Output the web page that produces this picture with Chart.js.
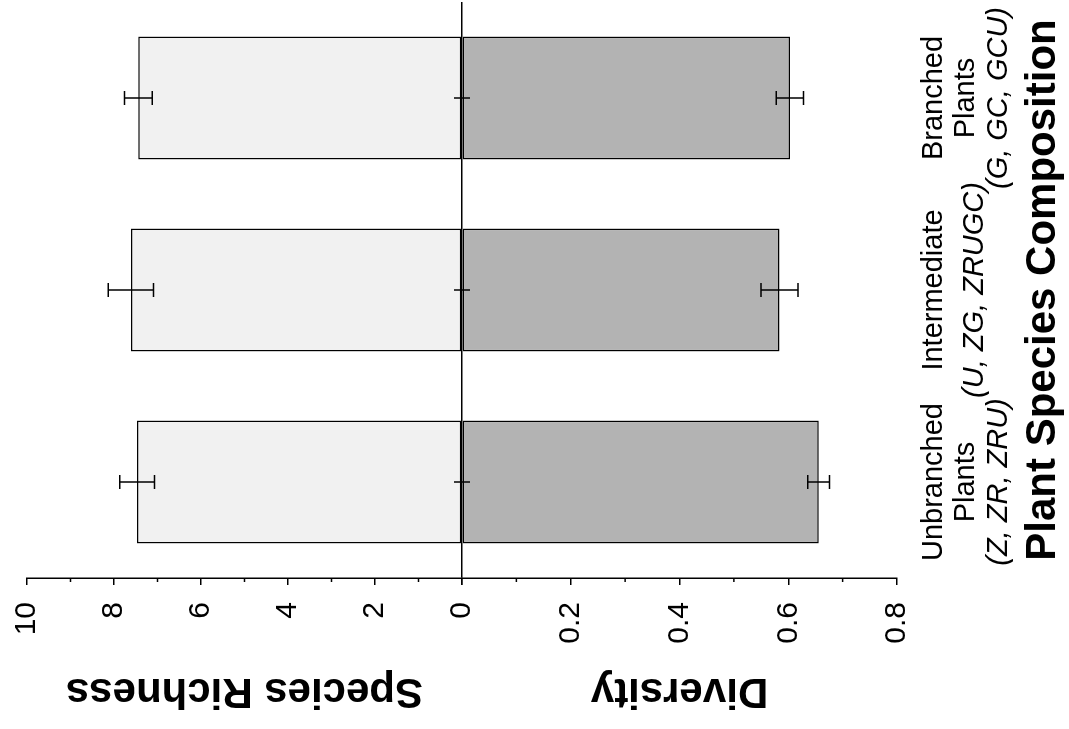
<!DOCTYPE html>
<html><head><meta charset="utf-8">
<script src="https://cdn.jsdelivr.net/npm/chart.js@4.4.1/dist/chart.umd.min.js"></script>
<style>
html,body{margin:0;padding:0;background:#fff;overflow:hidden;width:1069px;height:729px;}
#wrap{position:absolute;left:0;top:0;width:729px;height:1069px;transform-origin:0 0;transform:translate(0,729px) rotate(-90deg);background:#fff;}
canvas{display:block;}
</style></head><body>
<div id="wrap"><canvas id="c" width="729" height="1069" style="width:729px;height:1069px"></canvas></div>
<script>
// ---- data ----
const categories = ['Unbranched', 'Intermediate', 'Branched'];
const categoryLines = [
  ['Unbranched', 'Plants', '(Z, ZR, ZRU)'],
  ['Intermediate', '(U, ZG, ZRUGC)'],
  ['Branched', 'Plants', '(G, GC, GCU)']
];
const richness = [7.47, 7.61, 7.44];
const richnessErr = [0.40, 0.52, 0.32];
const diversity = [0.656, 0.584, 0.603];
const diversityErr = [0.020, 0.034, 0.025];
const richnessTicks = [0, 2, 4, 6, 8, 10];
const richnessMinor = [1, 3, 5, 7, 9];
const diversityTicks = [0, 0.2, 0.4, 0.6, 0.8];
const diversityMinor = [0.1, 0.3, 0.5, 0.7];
const richnessTitle = 'Species Richness';
const diversityTitle = 'Diversity';
const xTitle = 'Plant Species Composition';

Chart.defaults.font.family = "'Liberation Sans', Arial, Helvetica, sans-serif";
Chart.defaults.color = '#000';

const errorBars = {
  id: 'errorBars',
  afterDatasetsDraw(chart) {
    const ctx = chart.ctx;
    ctx.save();
    ctx.strokeStyle = '#000';
    ctx.lineWidth = 1.5;
    chart.data.datasets.forEach((ds, di) => {
      const meta = chart.getDatasetMeta(di);
      const ys = chart.scales[meta.yAxisID];
      meta.data.forEach((bar, i) => {
        const v = ds.data[i], e = ds.errors[i];
        const p1 = ys.getPixelForValue(v - e), p2 = ys.getPixelForValue(v + e);
        ctx.beginPath();
        ctx.moveTo(bar.x, p1); ctx.lineTo(bar.x, p2);
        ctx.moveTo(bar.x - 7, p1); ctx.lineTo(bar.x + 7, p1);
        ctx.moveTo(bar.x - 7, p2); ctx.lineTo(bar.x + 7, p2);
        ctx.stroke();
        if (di === 0) {
          const z = ys.getPixelForValue(0);
          ctx.beginPath();
          ctx.moveTo(bar.x, z - 8); ctx.lineTo(bar.x, z + 8);
          ctx.stroke();
        }
      });
    });
    ctx.restore();
  }
};

const extras = {
  id: 'extras',
  afterDraw(chart) {
    const ctx = chart.ctx;
    ctx.save();
    // minor ticks
    ctx.strokeStyle = '#000';
    ctx.lineWidth = 1.5;
    [['yR', richnessMinor], ['yD', diversityMinor]].forEach(([id, arr]) => {
      const s = chart.scales[id];
      arr.forEach(m => {
        const p = s.getPixelForValue(m);
        ctx.beginPath();
        ctx.moveTo(s.right - 4, p); ctx.lineTo(s.right, p);
        ctx.stroke();
      });
    });
    // category labels
    const xs = chart.scales.x;
    ctx.fillStyle = '#000';
    ctx.textAlign = 'center';
    ctx.textBaseline = 'alphabetic';
    categoryLines.forEach((lines, i) => {
      const px = xs.getPixelForValue(i);
      const offs = lines.length === 3 ? [45, 77, 110] : [45, 86];
      lines.forEach((t, k) => {
        const italic = k === lines.length - 1;
        ctx.font = (italic ? 'italic ' : '') + "29px 'Liberation Sans', Arial, sans-serif";
        ctx.fillText(t, px, xs.top + offs[k]);
      });
    });
    ctx.restore();
  }
};

new Chart(document.getElementById('c'), {
  type: 'bar',
  data: {
    labels: categories,
    datasets: [
      { label: richnessTitle, data: richness, errors: richnessErr, yAxisID: 'yR',
        backgroundColor: '#f1f1f1', borderColor: '#000', borderWidth: 1.5, borderSkipped: false,
        grouped: false, barPercentage: 0.64, categoryPercentage: 1 },
      { label: diversityTitle, data: diversity, errors: diversityErr, yAxisID: 'yD',
        backgroundColor: '#b3b3b3', borderColor: '#000', borderWidth: 1.5, borderSkipped: false,
        grouped: false, barPercentage: 0.64, categoryPercentage: 1 }
    ]
  },
  options: {
    responsive: false,
    animation: false,
    layout: { padding: { left: 0, right: 2, top: 27, bottom: 0 } },
    plugins: { legend: { display: false }, tooltip: { enabled: false } },
    scales: {
      x: {
        type: 'category',
        grid: { display: false, drawTicks: false },
        border: { display: false },
        ticks: { display: false },
        title: { display: true, text: xTitle, color: '#000', font: { size: 42, weight: 'bold' }, padding: { top: 121.6, bottom: 0 } }
      },
      yR: {
        type: 'linear', position: 'left', stack: 'v', stackWeight: 1, weight: 1,
        min: 0, max: 10,
        afterBuildTicks: s => { s.ticks = richnessTicks.map(v => ({ value: v })); },
        ticks: { color: '#000', font: { size: 30, lineHeight: 0.6 }, padding: 17 },
        grid: {
          drawOnChartArea: true,
          color: c => (c.tick && c.tick.value === 0) ? '#000' : 'rgba(0,0,0,0)',
          lineWidth: 1.5, tickLength: 7, tickColor: '#000', tickWidth: 1.5
        },
        border: { display: true, color: '#000', width: 1.5 },
        title: { display: true, text: richnessTitle, color: '#000', font: { size: 42, weight: 'bold' }, padding: { top: 13.3, bottom: 4.6 } }
      },
      yD: {
        type: 'linear', position: 'left', stack: 'v', stackWeight: 1, weight: 0,
        min: 0, max: 0.8, reverse: true,
        afterBuildTicks: s => { s.ticks = diversityTicks.map(v => ({ value: v })); },
        ticks: { color: '#000', font: { size: 30, lineHeight: 0.6 }, padding: 17,
          callback: v => v === 0 ? '' : Number(v).toFixed(1) },
        grid: { drawOnChartArea: false, lineWidth: 1.5, tickLength: 7, tickColor: '#000', tickWidth: 1.5, color: '#000' },
        border: { display: true, color: '#000', width: 1.5 },
        title: { display: true, text: diversityTitle, color: '#000', font: { size: 42, weight: 'bold' }, padding: { top: 13.3, bottom: 4.6 } }
      }
    }
  },
  plugins: [errorBars, extras]
});
</script>
</body></html>
